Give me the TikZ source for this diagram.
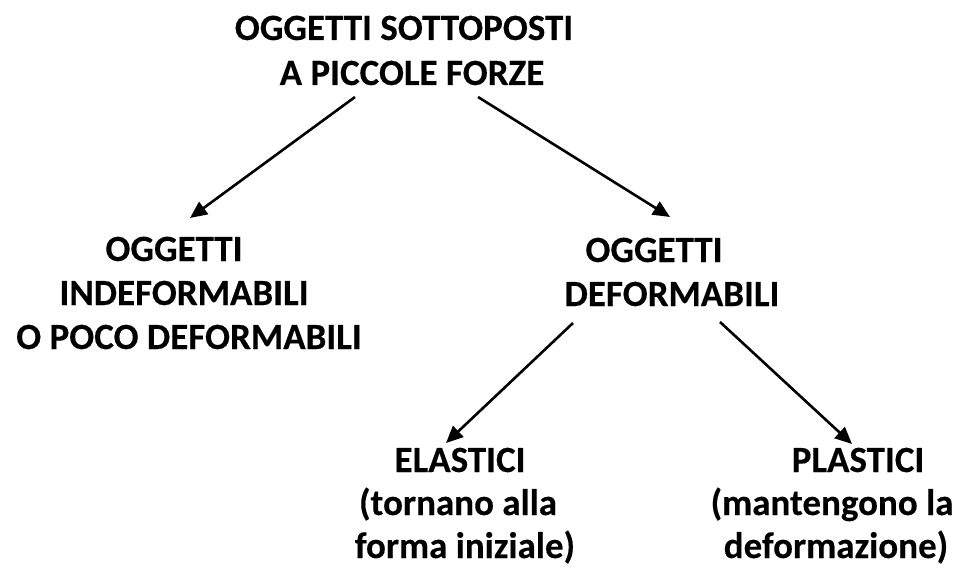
\documentclass[tikz,border=0pt]{standalone}
\usepackage{fontspec}
\setmainfont{Carlito}[BoldFeatures={FakeBold=0.3}]
\usetikzlibrary{arrows.meta}
\tikzset{
  lbl/.style={anchor=base, inner sep=0pt, font=\fontsize{37}{44}\selectfont\bfseries},
  conn/.style={line width=2.6pt, -{Triangle[length=17pt,width=15pt]}}
}
\begin{document}
\begin{tikzpicture}[x=1pt,y=-1pt]
\useasboundingbox[fill=white] (0,0) rectangle (955,580);
% top
\node[lbl] (t1) at (404,40) {OGGETTI SOTTOPOSTI};
\node[lbl] (t2) at (412,85) {A PICCOLE FORZE};
% left
\node[lbl] (l1) at (174,261) {OGGETTI};
\node[lbl] (l2) at (184,305) {INDEFORMABILI};
\node[lbl] (l3) at (189,349) {O POCO DEFORMABILI};
% right
\node[lbl] (r1) at (654,262) {OGGETTI};
\node[lbl] (r2) at (672,306) {DEFORMABILI};
% elastici
\node[lbl] (e1) at (460,472) {ELASTICI};
\node[lbl] (e2) at (458,515) {(tornano alla};
\node[lbl] (e3) at (465,558) {forma iniziale)};
% plastici
\node[lbl] (p1) at (858,472) {PLASTICI};
\node[lbl] (p2) at (832,515) {(mantengono la};
\node[lbl] (p3) at (836,558) {deformazione)};
% connector ends
\coordinate (a1s) at (355,97);
\coordinate (a1e) at (190,218);
\coordinate (a2s) at (478,97);
\coordinate (a2e) at (670,217);
\coordinate (a3s) at (573,323);
\coordinate (a3e) at (446,443);
\coordinate (a4s) at (720,322);
\coordinate (a4e) at (852,444);
\draw[conn] (a1s) -- (a1e);
\draw[conn] (a2s) -- (a2e);
\draw[conn] (a3s) -- (a3e);
\draw[conn] (a4s) -- (a4e);
\end{tikzpicture}
\end{document}
